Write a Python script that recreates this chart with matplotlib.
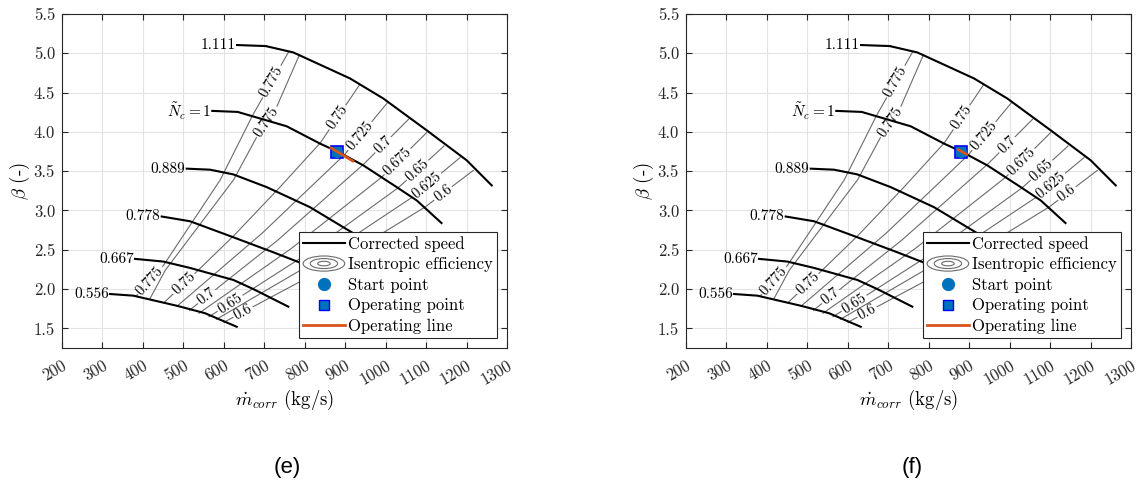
import numpy as np
import matplotlib

matplotlib.use("Agg")
import matplotlib.pyplot as plt
from matplotlib.lines import Line2D
from matplotlib.patches import Ellipse
from matplotlib.legend_handler import HandlerBase


# ============================================================
# Compressor map data
# ============================================================

# corrected speed lines: mass flow (kg/s) and pressure ratio beta
speed_labels = ["0.556", "0.667", "0.778", "0.889", r"$\tilde{N}_c = 1$", "1.111"]

spd_0556_m = [318.7, 376.3, 483.5, 553.5, 631.9]
spd_0556_b = [1.937, 1.916, 1.788, 1.693, 1.520]
spd_0667_m = [380.5, 450.4, 516.4, 623.5, 672.9, 759.4]
spd_0667_b = [2.384, 2.350, 2.269, 2.116, 2.000, 1.776]
spd_0778_m = [446.5, 516.4, 623.5, 722.3, 796.5, 886.0]
spd_0778_b = [2.923, 2.863, 2.659, 2.468, 2.320, 2.100]
spd_0889_m = [508.3, 565.9, 623.5, 706.0, 813.0, 916.0, 1012.0]
spd_0889_b = [3.532, 3.519, 3.459, 3.297, 3.042, 2.723, 2.450]
spd_1000_m = [571.5, 634.3, 755.5, 837.8, 883.0, 944.8, 1027.4, 1076.8, 1138.1]
spd_1000_b = [4.267, 4.254, 4.071, 3.851, 3.744, 3.574, 3.297, 3.128, 2.840]
spd_1111_m = [632.6, 703.5, 771.8, 912.0, 994.2, 1101.5, 1200.4, 1262.2]
spd_1111_b = [5.105, 5.092, 5.011, 4.680, 4.425, 4.020, 3.638, 3.319]

# isentropic efficiency contour lines (bottom -> top)
eta_levels = [0.775, 0.775, 0.75, 0.725, 0.7, 0.675, 0.65, 0.625, 0.6]

eta_0775a_m = [382.9, 450.4, 590.6, 668.9, 759.4]
eta_0775a_b = [1.908, 2.298, 3.383, 4.190, 5.011]
eta_0775b_m = [417.5, 454.6, 623.4, 681.3, 730.7, 786.6]
eta_0775b_b = [1.878, 2.235, 3.383, 3.935, 4.318, 4.977]
eta_0750_m = [452.1, 536.2, 621.5, 729.0, 837.8, 934.9]
eta_0750_b = [1.827, 2.237, 2.662, 3.242, 3.855, 4.594]
eta_0725_m = [484.3, 690.7, 897.1, 1004.1]
eta_0725_b = [1.782, 2.691, 3.702, 4.369]
eta_0700_m = [515.2, 729.6, 944.0, 1058.5]
eta_0700_b = [1.731, 2.605, 3.580, 4.170]
eta_0675_m = [538.7, 763.6, 988.5, 1101.5]
eta_0675_b = [1.693, 2.503, 3.415, 3.991]
eta_0650_m = [563.4, 797.0, 1030.6, 1144.3]
eta_0650_b = [1.648, 2.416, 3.286, 3.820]
eta_0625_m = [581.9, 823.5, 1065.2, 1183.8]
eta_0625_b = [1.616, 2.340, 3.166, 3.672]
eta_0600_m = [600.4, 848.3, 1096.1, 1216.7]
eta_0600_b = [1.578, 2.257, 3.038, 3.510]

# mass flow where the contour labels sit
eta_label_m = [
    [417.5, 718.4],
    [706.0],
    [501.6, 881.0],
    [936.6],
    [557.7, 993.5],
    [1029.3],
    [615.3, 1078.8],
    [1102.2],
    [647.4, 1141.8],
]

# start / operating point and operating line for panels (e) and (f)
start_m, start_b = 880.0, 3.745
oper_m, oper_b = 880.0, 3.745
opline_e_m = [865.0, 918.7]
opline_e_b = [3.795, 3.630]
opline_f_m = [873.0, 894.0]
opline_f_b = [3.774, 3.714]

panel_captions = ["(e)", "(f)"]

x_ticks = np.arange(200, 1301, 100)
y_ticks = np.arange(1.5, 5.51, 0.5)


# ============================================================
# Style
# ============================================================

plt.rcParams.update({
    "font.family": "serif",
    "font.serif": ["cmr10"],
    "mathtext.fontset": "cm",
    "axes.formatter.use_mathtext": True,
    "axes.unicode_minus": False,
    "font.size": 11,
})

BLUE = "#0072BD"
ORANGE = "#D95319"
AX_COL = "#262626"
GRAY = "#6b6b6b"

speed_m = [spd_0556_m, spd_0667_m, spd_0778_m, spd_0889_m, spd_1000_m, spd_1111_m]
speed_b = [spd_0556_b, spd_0667_b, spd_0778_b, spd_0889_b, spd_1000_b, spd_1111_b]
eta_m = [eta_0775a_m, eta_0775b_m, eta_0750_m, eta_0725_m, eta_0700_m,
         eta_0675_m, eta_0650_m, eta_0625_m, eta_0600_m]
eta_b = [eta_0775a_b, eta_0775b_b, eta_0750_b, eta_0725_b, eta_0700_b,
         eta_0675_b, eta_0650_b, eta_0625_b, eta_0600_b]


class HandlerRings(HandlerBase):
    """Legend icon: concentric ellipses for the contour entry."""

    def create_artists(self, legend, orig_handle, xdescent, ydescent,
                       width, height, fontsize, trans):
        cx = -xdescent + width / 2
        cy = -ydescent + height / 2
        arts = []
        for f in (1.0, 0.66, 0.3):
            arts.append(Ellipse((cx, cy), width * f, height * 1.3 * f,
                                fill=False, edgecolor=GRAY, linewidth=0.8,
                                transform=trans))
        return arts


def contour_line(ax, renderer, m, b, label_ms, text):
    m = np.asarray(m, float)
    b = np.asarray(b, float)
    pts = ax.transData.transform(np.column_stack([m, b]))
    seg = np.hypot(np.diff(pts[:, 0]), np.diff(pts[:, 1]))
    s = np.concatenate([[0.0], np.cumsum(seg)])
    sd = np.linspace(0.0, s[-1], int(s[-1] * 3) + 2)
    dense = np.column_stack([np.interp(sd, s, pts[:, 0]),
                             np.interp(sd, s, pts[:, 1])])
    for lm in label_ms:
        lb = np.interp(lm, m, b)
        k = min(max(int(np.searchsorted(m, lm)), 1), len(m) - 1)
        d = pts[k] - pts[k - 1]
        ang = np.degrees(np.arctan2(d[1], d[0]))
        t = ax.text(lm, lb, text, ha="center", va="center",
                    rotation_mode="anchor", fontsize=10.5, zorder=4)
        half = t.get_window_extent(renderer).width / 2 + 2.0
        t.set_rotation(ang)
        c = ax.transData.transform((lm, lb))
        near = np.hypot(dense[:, 0] - c[0], dense[:, 1] - c[1]) < half
        dense[near] = np.nan
    xy = ax.transData.inverted().transform(dense)
    ax.plot(xy[:, 0], xy[:, 1], color=GRAY, linewidth=0.8, zorder=2)


def draw_panel(ax, renderer, line_m, line_b):
    ax.set_xlim(200, 1300)
    ax.set_ylim(1.25, 5.5)
    ax.set_xticks(x_ticks)
    ax.set_yticks(y_ticks)
    ax.set_yticklabels([f"{v:.1f}" for v in y_ticks])
    ax.set_xticklabels([str(v) for v in x_ticks], rotation=30, ha="right",
                       va="top", rotation_mode="anchor")
    ax.tick_params(direction="in", length=4, width=0.8, color=AX_COL,
                   labelcolor=AX_COL, top=True, right=True, labelsize=12)
    ax.tick_params(axis="x", pad=7)
    ax.tick_params(axis="y", pad=5)
    for sp in ax.spines.values():
        sp.set_color(AX_COL)
        sp.set_linewidth(0.8)
    ax.grid(True, color="#e3e3e3", linewidth=0.8, zorder=0)
    ax.set_axisbelow(True)

    for lvl, m, b, lms in zip(eta_levels, eta_m, eta_b, eta_label_m):
        contour_line(ax, renderer, m, b, lms, f"{lvl:g}")

    for lab, m, b in zip(speed_labels, speed_m, speed_b):
        ax.plot(m, b, color="black", linewidth=1.5, zorder=3)
        ax.annotate(lab, (m[0], b[0]), xytext=(-1, 0),
                    textcoords="offset points", ha="right", va="center",
                    fontsize=11, zorder=4)

    ax.plot(oper_m, oper_b, "s", markersize=8, markerfacecolor=BLUE,
            markeredgecolor="blue", markeredgewidth=1.2, zorder=5)
    ax.plot(start_m, start_b, "o", markersize=7, markerfacecolor=BLUE,
            markeredgecolor=BLUE, zorder=6)
    ax.plot(line_m, line_b, color=ORANGE, linewidth=2, zorder=7)

    ax.set_xlabel(r"$\dot{m}_{corr}$ (kg/s)", fontsize=13.5)
    ax.xaxis.label.set_va("center")
    ax.xaxis.set_label_coords(0.5, -0.156)
    ax.set_ylabel(r"$\beta$ (-)", fontsize=13.5)
    ax.yaxis.label.set_va("center")
    ax.yaxis.set_label_coords(-0.094, 0.5)

    rings = Line2D([], [], color=GRAY)
    handles = [
        Line2D([], [], color="black", linewidth=1.5),
        rings,
        Line2D([], [], linestyle="none", marker="o", markersize=8.5,
               markerfacecolor=BLUE, markeredgecolor=BLUE),
        Line2D([], [], linestyle="none", marker="s", markersize=7.5,
               markerfacecolor=BLUE, markeredgecolor="blue"),
        Line2D([], [], color=ORANGE, linewidth=2),
    ]
    labels = ["Corrected speed", "Isentropic efficiency", "Start point",
              "Operating point", "Operating line"]
    leg = ax.legend(handles, labels, loc="lower right", fontsize=12,
                    handler_map={rings: HandlerRings()},
                    handlelength=2.5, handletextpad=0.2, borderpad=0.25,
                    labelspacing=0.31, borderaxespad=0.6, fancybox=False,
                    framealpha=1.0, edgecolor=AX_COL)
    leg.get_frame().set_linewidth(0.8)
    leg.set_zorder(10)


fig = plt.figure(figsize=(11.38, 4.83), dpi=100)
renderer = fig.canvas.get_renderer()

ax_e = fig.add_axes([0.05448, 0.27950, 0.39104, 0.69151])
ax_f = fig.add_axes([0.60281, 0.27950, 0.39104, 0.69151])

draw_panel(ax_e, renderer, opline_e_m, opline_e_b)
draw_panel(ax_f, renderer, opline_f_m, opline_f_b)

for x, cap in zip([0.2522, 0.8014], panel_captions):
    fig.text(x, 0.033, cap, ha="center", va="center", fontsize=16,
             family="Liberation Sans")

fig.savefig("out.png", dpi=100)
